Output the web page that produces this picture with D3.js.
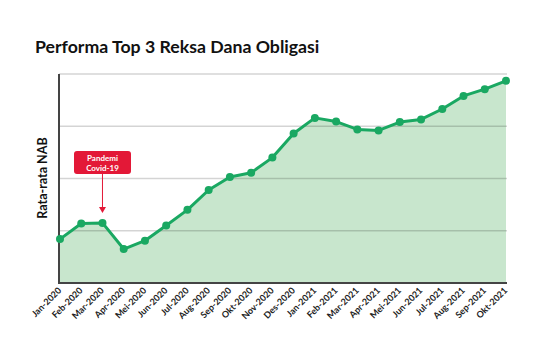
<!DOCTYPE html>
<html>
<head>
<meta charset="UTF-8">
<script src="https://d3js.org/d3.v7.min.js"></script>
<style>
body { margin: 0; background: #fff; }
svg { font-family: "Lato", "Noto Sans", sans-serif; }
</style>
</head>
<body>
<svg width="540" height="363"></svg>
<script>
// months shown on the x axis
var months = ["Jan-2020","Feb-2020","Mar-2020","Apr-2020","Mei-2020","Jun-2020","Jul-2020",
  "Aug-2020","Sep-2020","Okt-2020","Nov-2020","Des-2020","Jan-2021","Feb-2021","Mar-2021",
  "Apr-2021","Mei-2021","Jun-2021","Jul-2021","Aug-2021","Sep-2021","Okt-2021"];
// average NAB (arbitrary units)
var nab = [0.84, 1.14, 1.15, 0.65, 0.81, 1.10, 1.40, 1.78, 2.03, 2.11, 2.40, 2.86,
  3.16, 3.09, 2.94, 2.92, 3.08, 3.13, 3.33, 3.58, 3.71, 3.87];
var gridVals = [1, 2, 3, 4];

var svg = d3.select("svg");
var plotLeft = 59, plotRight = 506, plotTop = 74, plotBottom = 283;

var x = d3.scalePoint().domain(months).range([plotLeft + 1, plotRight]);
var y = d3.scaleLinear().domain([0, 4]).range([plotBottom, plotTop]);

var data = months.map(function(m, i) { return {m: m, v: nab[i]}; });

// title
svg.append("text")
  .attr("x", 35).attr("y", 53)
  .style("font-size", "17.7px").style("font-weight", "bold")
  .attr("fill", "#111")
  .text("Performa Top 3 Reksa Dana Obligasi");

// area
var area = d3.area()
  .x(function(d) { return x(d.m); })
  .y0(plotBottom).y1(function(d) { return y(d.v); });
svg.append("path").datum(data)
  .attr("d", area).attr("fill", "#c8e6cd");

// gridlines
svg.selectAll(".grid").data(gridVals).enter().append("line")
  .attr("x1", plotLeft).attr("x2", plotRight + 1)
  .attr("y1", function(d) { return y(d); }).attr("y2", function(d) { return y(d); })
  .attr("stroke", "rgba(0,0,0,0.17)").attr("stroke-width", 1.5);

// axes lines
svg.append("line").attr("x1", plotLeft).attr("x2", plotLeft)
  .attr("y1", plotTop).attr("y2", plotBottom + 1)
  .attr("stroke", "#444").attr("stroke-width", 2);
svg.append("line").attr("x1", plotLeft - 1).attr("x2", plotRight + 1)
  .attr("y1", plotBottom).attr("y2", plotBottom)
  .attr("stroke", "#444").attr("stroke-width", 2);

// line + dots
var line = d3.line().x(function(d) { return x(d.m); }).y(function(d) { return y(d.v); });
svg.append("path").datum(data).attr("d", line)
  .attr("fill", "none").attr("stroke", "#1aa862").attr("stroke-width", 3)
  .attr("stroke-linejoin", "round");
svg.selectAll(".dot").data(data).enter().append("circle")
  .attr("cx", function(d) { return x(d.m); })
  .attr("cy", function(d) { return y(d.v); })
  .attr("r", 4).attr("fill", "#1aa862");

// x labels
svg.selectAll(".xl").data(months).enter().append("text")
  .attr("transform", function(d) { return "translate(" + (x(d) + 2) + "," + (plotBottom + 8) + ") rotate(-45)"; })
  .attr("text-anchor", "end")
  .style("font-size", "9px").style("font-weight", "bold")
  .attr("fill", "#222")
  .text(function(d) { return d; });

// y label
svg.append("text")
  .attr("transform", "translate(47,178) rotate(-90)")
  .attr("text-anchor", "middle")
  .style("font-size", "12.5px").style("font-weight", "bold")
  .attr("fill", "#111")
  .text("Rata-rata NAB");

// covid annotation
var ax = x("Mar-2020");
var g = svg.append("g");
g.append("line").attr("x1", ax).attr("x2", ax)
  .attr("y1", 174).attr("y2", 208)
  .attr("stroke", "#e31837").attr("stroke-width", 1);
g.append("path")
  .attr("d", "M" + (ax - 3.5) + ",207 L" + (ax + 3.5) + ",207 L" + ax + ",213 Z")
  .attr("fill", "#e31837");
g.append("rect").attr("x", 74).attr("y", 151).attr("width", 57).attr("height", 23)
  .attr("rx", 3).attr("fill", "#e31837");
g.append("text").attr("x", 102.5).attr("y", 161)
  .attr("text-anchor", "middle").attr("fill", "#fff")
  .style("font-size", "8px").style("font-weight", "bold").text("Pandemi");
g.append("text").attr("x", 102.5).attr("y", 170.5)
  .attr("text-anchor", "middle").attr("fill", "#fff")
  .style("font-size", "8px").style("font-weight", "bold").text("Covid-19");
</script>
</body>
</html>
